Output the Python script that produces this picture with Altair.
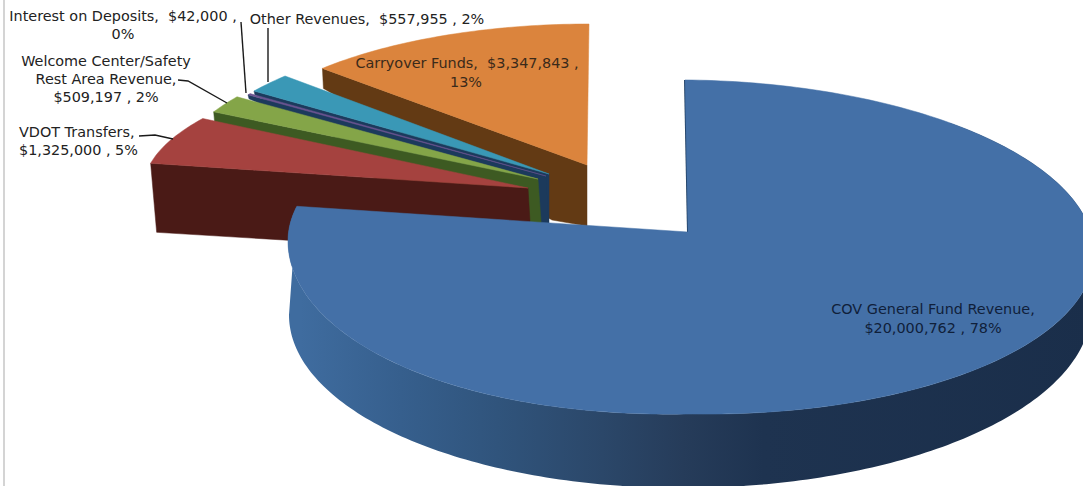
import math
import altair as alt

# Revenue sources, in pie order (clockwise from twelve o'clock)
names = ["COV General Fund Revenue", "VDOT Transfers", "Welcome Center/Safety Rest Area Revenue",
         "Interest on Deposits", "Other Revenues", "Carryover Funds"]
amounts = [20000762, 1325000, 509197, 42000, 557955, 3347843]

top_colors = ["#4470A7", "#A5423F", "#84A548", "#6A5490", "#3A98B6", "#DB843D"]
wall_colors = ["#1C3350", "#4A1A16", "#3D5A22", "#1C3A5C", "#1C3A5C", "#633A14"]

# Each exploded slice: tip of the wedge, rim ellipse centre and radii, extruded tip offset, rim drop
slice_layout = [
    dict(tip=(688, 232), c=(691, 247), r=(403, 167), k=6, m=7, tip_drop=(0, 0), drop=0),
    dict(tip=(528, 188), c=(654, 187), r=(510, 147), tip_drop=(4, 67), drop=69),
    dict(tip=(538, 179), c=(534, 178), r=(362, 142), tip_drop=(4, 56), drop=11),
    dict(tip=(546, 176), c=(545, 176), r=(362, 142), tip_drop=(3, 56), drop=4),
    dict(tip=(549, 174), c=(548, 174), r=(361, 143), tip_drop=(0, 56), drop=4),
    dict(tip=(587, 165), c=(589, 165), r=(366, 141), tip_drop=(0, 61), drop=20),
]

total = sum(amounts)
sweeps = [360 * a / total for a in amounts]
# The big slice sits a hair before twelve o'clock and foreshortening widens its opening
MAIN_START = -0.85
MAIN_OPENING = 1.013


def rim(layout, deg):
    t = math.radians(deg)
    x = layout["c"][0] + layout["r"][0] * math.sin(t)
    y = layout["c"][1] - layout["r"][1] * math.cos(t) + layout.get("k", 0) * math.sin(t)
    # The near-left quadrant of the disc bulges slightly under perspective
    if 180 <= deg <= 270:
        y += layout.get("m", 0) * math.sin(2 * t)
    return [x, y]


def arc(layout, a, b, step=1.0):
    n = max(2, int(abs(b - a) / step) + 1)
    return [rim(layout, a + (b - a) * i / (n - 1)) for i in range(n)]


IDENTITY = alt.Projection(type="identity", scale=1, translate=[0, 0]).to_dict()


def polygon(points, **mark):
    ring = [list(p) for p in points]
    ring.append(ring[0])
    feature = {"type": "Feature", "properties": {}, "geometry": {"type": "Polygon", "coordinates": [ring]}}
    return alt.Chart(alt.Data(values=[feature])).mark_geoshape(**mark).project(**IDENTITY)


def polyline(points, **mark):
    feature = {"type": "Feature", "properties": {},
               "geometry": {"type": "LineString", "coordinates": [list(p) for p in points]}}
    return alt.Chart(alt.Data(values=[feature])).mark_geoshape(filled=False, **mark).project(**IDENTITY)


# Angles per slice
bounds = []
angle = 0.0
for sw in sweeps:
    bounds.append((angle, angle + sw))
    angle += sw

layers = []

# Small wedges are painted back to front, so nearer ones hide the farther walls
for i in [5, 4, 3, 2, 1]:
    lay = slice_layout[i]
    a, b = bounds[i]
    tip = lay["tip"]
    tip_low = (tip[0] + lay["tip_drop"][0], tip[1] + lay["tip_drop"][1])
    outer = rim(lay, a)
    outer_low = (outer[0] + (6 if i == 1 else 1), outer[1] + lay["drop"])
    wall = [outer, tip, tip_low]
    if i == 5:
        wall.append((552, 220))
    wall.append(outer_low)
    layers.append(polygon(wall, fill=wall_colors[i], stroke=wall_colors[i], strokeWidth=0.5))
    layers.append(polygon([tip] + arc(lay, a, b), fill=top_colors[i], stroke=top_colors[i], strokeWidth=0.5))

# Main slice: curved outer wall with a horizontal shading, then its top face
main = slice_layout[0]
a = MAIN_START
b = a + sweeps[0] * MAIN_OPENING
bottom = dict(c=(690, 312), r=(401, 176), k=-3)
wall_pts = arc(main, 40, b) + arc(bottom, 270, 40)
shade = alt.Gradient(
    gradient="linear", x1=0, x2=1, y1=0, y2=0,
    stops=[
        alt.GradientStop(color="#3F6C9F", offset=0.015),
        alt.GradientStop(color="#365F8D", offset=0.14),
        alt.GradientStop(color="#30547C", offset=0.26),
        alt.GradientStop(color="#2B4769", offset=0.39),
        alt.GradientStop(color="#263C5A", offset=0.49),
        alt.GradientStop(color="#1E3350", offset=0.59),
        alt.GradientStop(color="#1A2E4A", offset=1),
    ],
)
layers.append(polygon(wall_pts, fill=shade))
layers.append(polyline([main["tip"], rim(main, a)], stroke="#1C3A5C", strokeWidth=2))
layers.append(polygon([main["tip"]] + arc(main, a, b), fill=top_colors[0], stroke=top_colors[0], strokeWidth=0.5))

# Leader lines from outside labels to their slices
leaders = [
    [(241, 22), (246, 93)],
    [(268, 28), (268, 82)],
    [(178, 80), (188, 81), (227, 103)],
    [(139, 136), (155, 135), (173, 139)],
]
for line in leaders:
    layers.append(polyline(line, stroke="#1A1A1A", strokeWidth=1.4))

# Label text, one entry per drawn line: (text, anchor x, baseline y, alignment, color)
NB = "\u00a0"
label_lines = [
    (f"Interest on Deposits,{NB}{NB}$42,000 ,", 123, 21, "center", "#222222"),
    ("0%", 123, 39, "center", "#222222"),
    (f"Other Revenues,{NB}{NB}$557,955 , 2%", 367, 24, "center", "#222222"),
    ("Welcome Center/Safety", 106, 66, "center", "#222222"),
    ("Rest Area Revenue,", 106, 84, "center", "#222222"),
    ("$509,197 , 2%", 106, 102, "center", "#222222"),
    ("VDOT Transfers,", 19, 137, "left", "#222222"),
    ("$1,325,000 , 5%", 19, 155, "left", "#222222"),
    (f"Carryover Funds,{NB}{NB}$3,347,843 ,", 467, 68, "center", "#3A2A1A"),
    ("13%", 466, 87, "center", "#3A2A1A"),
    ("COV General Fund Revenue,", 933, 314, "center", "#10203A"),
    ("$20,000,762 , 78%", 933, 333, "center", "#10203A"),
]
text_rows = [dict(t=t, x=x, y=y, align=al, color=c) for t, x, y, al, c in label_lines]
for align in ["center", "left"]:
    rows = [r for r in text_rows if r["align"] == align]
    layers.append(
        alt.Chart(alt.Data(values=rows))
        .mark_text(font="DejaVu Sans", fontSize=14.4, align=align, baseline="alphabetic")
        .encode(
            x=alt.X("x:Q", scale=None, axis=None),
            y=alt.Y("y:Q", scale=None, axis=None),
            text="t:N",
            color=alt.Color("color:N", scale=None, legend=None),
        )
    )

# Thin frame edge on the left
frame = alt.Chart(alt.Data(values=[{}])).mark_rule(color="#C6C6C6", strokeWidth=1.5).encode(
    x=alt.value(4), y=alt.value(0), y2=alt.value(486)
)
layers.append(frame)

chart = (
    alt.layer(*layers)
    .properties(width=1083, height=486, padding=0, autosize=alt.AutoSizeParams(type="none"), background="white")
    .configure_view(stroke=None)
)
chart.save("out.html", embed_options={"renderer": "svg", "actions": False})
